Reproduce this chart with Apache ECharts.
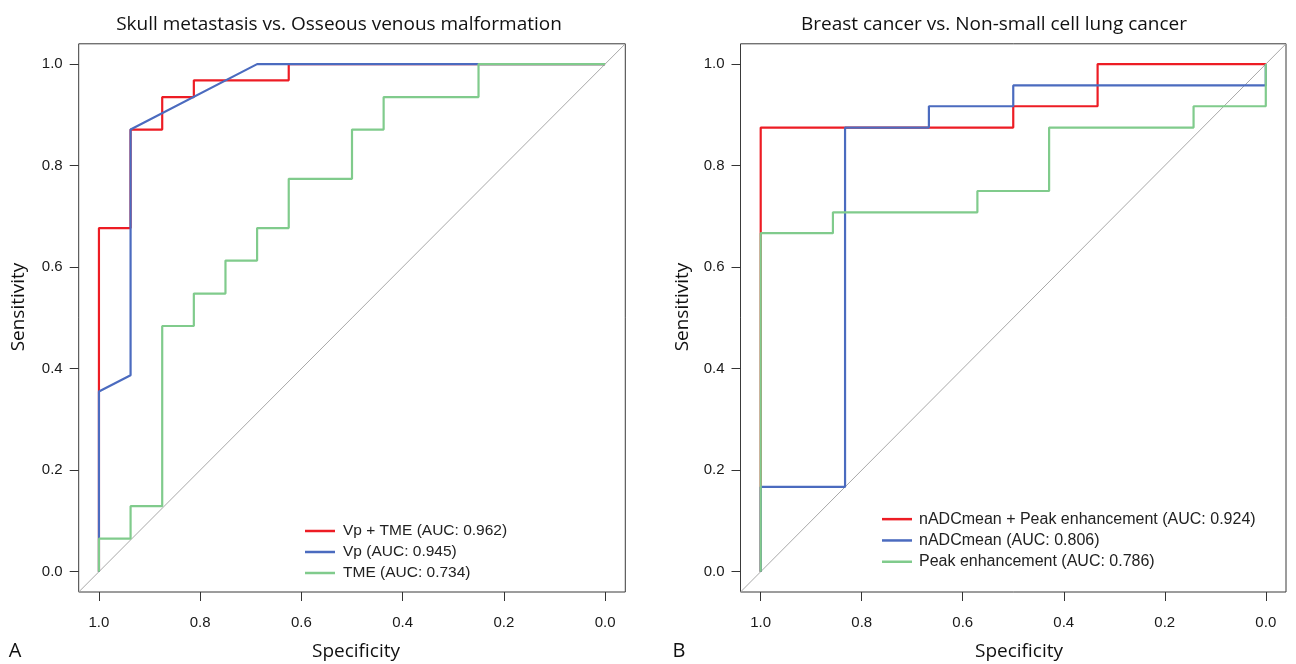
<!DOCTYPE html>
<html>
<head>
<meta charset="utf-8">
<style>
  html, body { margin: 0; padding: 0; background: #ffffff; }
  #chart { width: 1296px; height: 664px; }
</style>
<script src="https://cdn.jsdelivr.net/npm/echarts@6.0.0/dist/echarts.min.js"></script>
</head>
<body>
<div id="chart"></div>
<script>
// ---------------- DATA ----------------
// Panel A: Skull metastasis vs. Osseous venous malformation
const titleA = "Skull metastasis vs. Osseous venous malformation";
const namesA = ["Vp + TME (AUC: 0.962)", "Vp (AUC: 0.945)", "TME (AUC: 0.734)"];
const specA_vpTme = [1, 1, 0.9375, 0.9375, 0.875, 0.875, 0.8125, 0.8125, 0.625, 0.625, 0];
const sensA_vpTme = [0, 0.677, 0.677, 0.871, 0.871, 0.935, 0.935, 0.968, 0.968, 1, 1];
const specA_vp = [1, 1, 0.9375, 0.9375, 0.6875, 0];
const sensA_vp = [0, 0.355, 0.387, 0.871, 1, 1];
const specA_tme = [1, 1, 0.9375, 0.9375, 0.875, 0.875, 0.8125, 0.8125, 0.75, 0.75, 0.6875, 0.6875, 0.625, 0.625, 0.5, 0.5, 0.4375, 0.4375, 0.25, 0.25, 0];
const sensA_tme = [0, 0.065, 0.065, 0.129, 0.129, 0.484, 0.484, 0.548, 0.548, 0.613, 0.613, 0.677, 0.677, 0.774, 0.774, 0.871, 0.871, 0.935, 0.935, 1, 1];

// Panel B: Breast cancer vs. Non-small cell lung cancer
const titleB = "Breast cancer vs. Non-small cell lung cancer";
const namesB = ["nADCmean + Peak enhancement (AUC: 0.924)", "nADCmean (AUC: 0.806)", "Peak enhancement (AUC: 0.786)"];
const specB_combined = [1, 1, 0.5, 0.5, 0.333, 0.333, 0];
const sensB_combined = [0, 0.875, 0.875, 0.917, 0.917, 1, 1];
const specB_adc = [1, 1, 0.833, 0.833, 0.667, 0.667, 0.5, 0.5, 0, 0];
const sensB_adc = [0, 0.167, 0.167, 0.875, 0.875, 0.917, 0.917, 0.958, 0.958, 1];
const specB_peak = [1, 1, 0.857, 0.857, 0.571, 0.571, 0.429, 0.429, 0.143, 0.143, 0, 0];
const sensB_peak = [0, 0.667, 0.667, 0.708, 0.708, 0.75, 0.75, 0.875, 0.875, 0.917, 0.917, 1];

// Reference (chance) diagonal, corner to corner of the plotting region
const diagSpec = [1.04, -0.04];
const diagSens = [-0.04, 1.04];

// Axis tick values and text
const tickValues = [0, 0.2, 0.4, 0.6, 0.8, 1.0];
const xAxisTitle = "Specificity";
const yAxisTitle = "Sensitivity";
const panelLetters = ["A", "B"];

// ---------------- STYLE ----------------
const colRed = "#ED1C24";
const colBlue = "#4B6BBF";
const colGreen = "#80CB8C";
const colDiag = "#A8A8A8";
const axisFont = "Liberation Sans";
const titleFont = "Open Sans";

function zip(xs, ys) { return xs.map((x, i) => [x, ys[i]]); }

const gridA = { left: 78.7, top: 43.8, width: 546.6, height: 548.2 };
const gridB = { left: 740.5, top: 43.8, width: 545.5, height: 548.2 };

function makeGrid(g) {
  return Object.assign({ show: true, borderColor: "#3a3a3a", borderWidth: 1, backgroundColor: "transparent", containLabel: false }, g);
}

function makeXAxis(idx) {
  return {
    gridIndex: idx, type: "value", min: -0.04, max: 1.04, inverse: true, position: "bottom",
    splitLine: { show: false },
    axisLine: { show: false, onZero: false },
    axisTick: { show: true, inside: false, length: 9, customValues: tickValues, lineStyle: { color: "#333", width: 1 } },
    axisLabel: { show: true, customValues: tickValues, margin: 23, fontSize: 15, color: "#1a1a1a", fontFamily: axisFont,
                 formatter: v => v.toFixed(1) }
  };
}
function makeYAxis(idx) {
  return {
    gridIndex: idx, type: "value", min: -0.04, max: 1.04, position: "left",
    splitLine: { show: false },
    axisLine: { show: false, onZero: false },
    axisTick: { show: true, inside: false, length: 9, customValues: tickValues, lineStyle: { color: "#333", width: 1 } },
    axisLabel: { show: true, customValues: tickValues, margin: 16, fontSize: 15, color: "#1a1a1a", fontFamily: axisFont,
                 formatter: v => v.toFixed(1) }
  };
}

function lineSeries(name, idx, xs, ys, color, width, z) {
  return {
    name: name, type: "line", xAxisIndex: idx, yAxisIndex: idx,
    data: zip(xs, ys), symbol: "none", showSymbol: false, smooth: false,
    color: color, lineStyle: { color: color, width: width }, itemStyle: { color: color },
    z: z, silent: true, animation: false
  };
}

const chart = echarts.init(document.getElementById("chart"), null, { renderer: "canvas" });

const option = {
  backgroundColor: "#ffffff",
  animation: false,
  grid: [makeGrid(gridA), makeGrid(gridB)],
  xAxis: [makeXAxis(0), makeXAxis(1)],
  yAxis: [makeYAxis(0), makeYAxis(1)],
  legend: [
    {
      data: namesA, orient: "vertical", left: 300, top: 515.5, itemGap: 0,
      itemWidth: 30, itemHeight: 2.5, icon: "rect", selectedMode: false,
      textStyle: { fontSize: 15.5, lineHeight: 21, color: "#222", fontFamily: axisFont, padding: [0, 0, 0, 3] }
    },
    {
      data: namesB, orient: "vertical", left: 877, top: 503.5, itemGap: 0,
      itemWidth: 30, itemHeight: 2.5, icon: "rect", selectedMode: false,
      textStyle: { fontSize: 16, lineHeight: 21.3, color: "#222", fontFamily: axisFont, padding: [0, 0, 0, 2] }
    }
  ],
  series: [
    lineSeries("diagA", 0, diagSpec, diagSens, colDiag, 1, 1),
    lineSeries(namesA[0], 0, specA_vpTme, sensA_vpTme, colRed, 2.2, 2),
    lineSeries(namesA[1], 0, specA_vp, sensA_vp, colBlue, 2.2, 3),
    lineSeries(namesA[2], 0, specA_tme, sensA_tme, colGreen, 2.2, 4),
    lineSeries("diagB", 1, diagSpec, diagSens, colDiag, 1, 1),
    lineSeries(namesB[0], 1, specB_combined, sensB_combined, colRed, 2.2, 2),
    lineSeries(namesB[1], 1, specB_adc, sensB_adc, colBlue, 2.2, 3),
    lineSeries(namesB[2], 1, specB_peak, sensB_peak, colGreen, 2.2, 4)
  ],
  graphic: [
    { type: "text", x: 339, y: 25, style: { text: titleA, fontSize: 19, fontFamily: titleFont, fill: "#111", align: "center", verticalAlign: "middle" } },
    { type: "text", x: 994, y: 25, style: { text: titleB, fontSize: 19, fontFamily: titleFont, fill: "#111", align: "center", verticalAlign: "middle" } },
    { type: "text", x: 356, y: 652, style: { text: xAxisTitle, fontSize: 19, fontFamily: titleFont, fill: "#111", align: "center", verticalAlign: "middle" } },
    { type: "text", x: 1019, y: 652, style: { text: xAxisTitle, fontSize: 19, fontFamily: titleFont, fill: "#111", align: "center", verticalAlign: "middle" } },
    { type: "text", x: 19, y: 307, rotation: Math.PI / 2, style: { text: yAxisTitle, fontSize: 19, fontFamily: titleFont, fill: "#111", align: "center", verticalAlign: "middle" } },
    { type: "text", x: 683, y: 307, rotation: Math.PI / 2, style: { text: yAxisTitle, fontSize: 19, fontFamily: titleFont, fill: "#111", align: "center", verticalAlign: "middle" } },
    { type: "text", x: 15, y: 651, style: { text: panelLetters[0], fontSize: 20, fontFamily: titleFont, fill: "#111", align: "center", verticalAlign: "middle" } },
    { type: "text", x: 679, y: 651, style: { text: panelLetters[1], fontSize: 20, fontFamily: titleFont, fill: "#111", align: "center", verticalAlign: "middle" } }
  ]
};

chart.setOption(option);
</script>
</body>
</html>
